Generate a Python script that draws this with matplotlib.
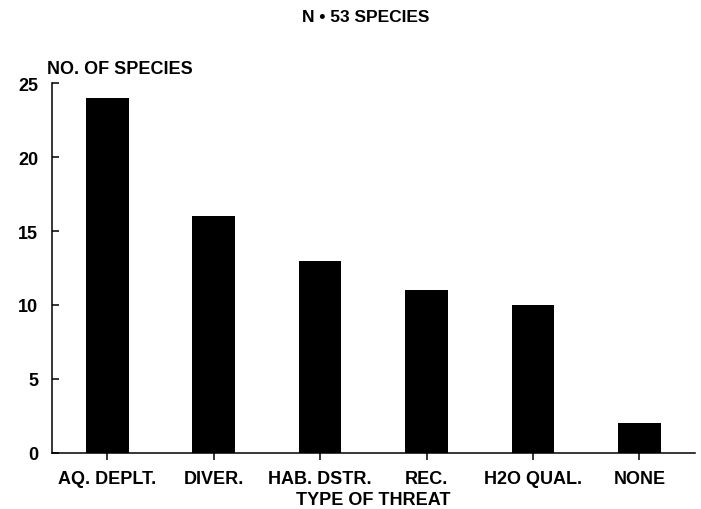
import matplotlib
matplotlib.use("Agg")
import matplotlib.pyplot as plt
import numpy as np

categories = ["AQ. DEPLT.", "DIVER.", "HAB. DSTR.", "REC.", "H2O QUAL.", "NONE"]
species_counts = [24, 16, 13, 11, 10, 2]
y_ticks = [0, 5, 10, 15, 20, 25]

plt.rcParams['font.family'] = ['Liberation Sans', 'DejaVu Sans']
plt.rcParams['font.weight'] = 'bold'

fig = plt.figure(figsize=(7.01, 5.10), dpi=100)
ax = fig.add_axes([0.0742, 0.11, 0.917, 0.725])

x = np.arange(len(categories))
ax.bar(x, species_counts, width=0.4, color='black', edgecolor='black', linewidth=0)

ax.set_xlim(-0.52, 5.52)
ax.set_ylim(0, 25)
ax.set_yticks(y_ticks)
ax.set_xticks(x)
ax.set_xticklabels(categories, fontsize=13, fontweight='bold')
ax.set_yticklabels([str(v) for v in y_ticks], fontsize=13, fontweight='bold')

for side in ['top', 'right']:
    ax.spines[side].set_visible(False)
for side in ['left', 'bottom']:
    ax.spines[side].set_linewidth(1.1)
    ax.spines[side].set_color('black')

ax.tick_params(axis='y', direction='in', length=5, width=1.1, pad=10)
ax.tick_params(axis='x', direction='out', length=5, width=1.1, pad=7.5)

ax.set_xlabel("TYPE OF THREAT", fontsize=13, fontweight='bold', labelpad=2.5)
fig.text(0.067, 1 - 74 / 510, "NO. OF SPECIES", fontsize=13, fontweight='bold', ha='left', va='baseline')
fig.text(0.521, 1 - 18 / 510, "N • 53 SPECIES", fontsize=12.5, fontweight='bold', ha='center', va='center')

fig.savefig("out.png", dpi=100)
